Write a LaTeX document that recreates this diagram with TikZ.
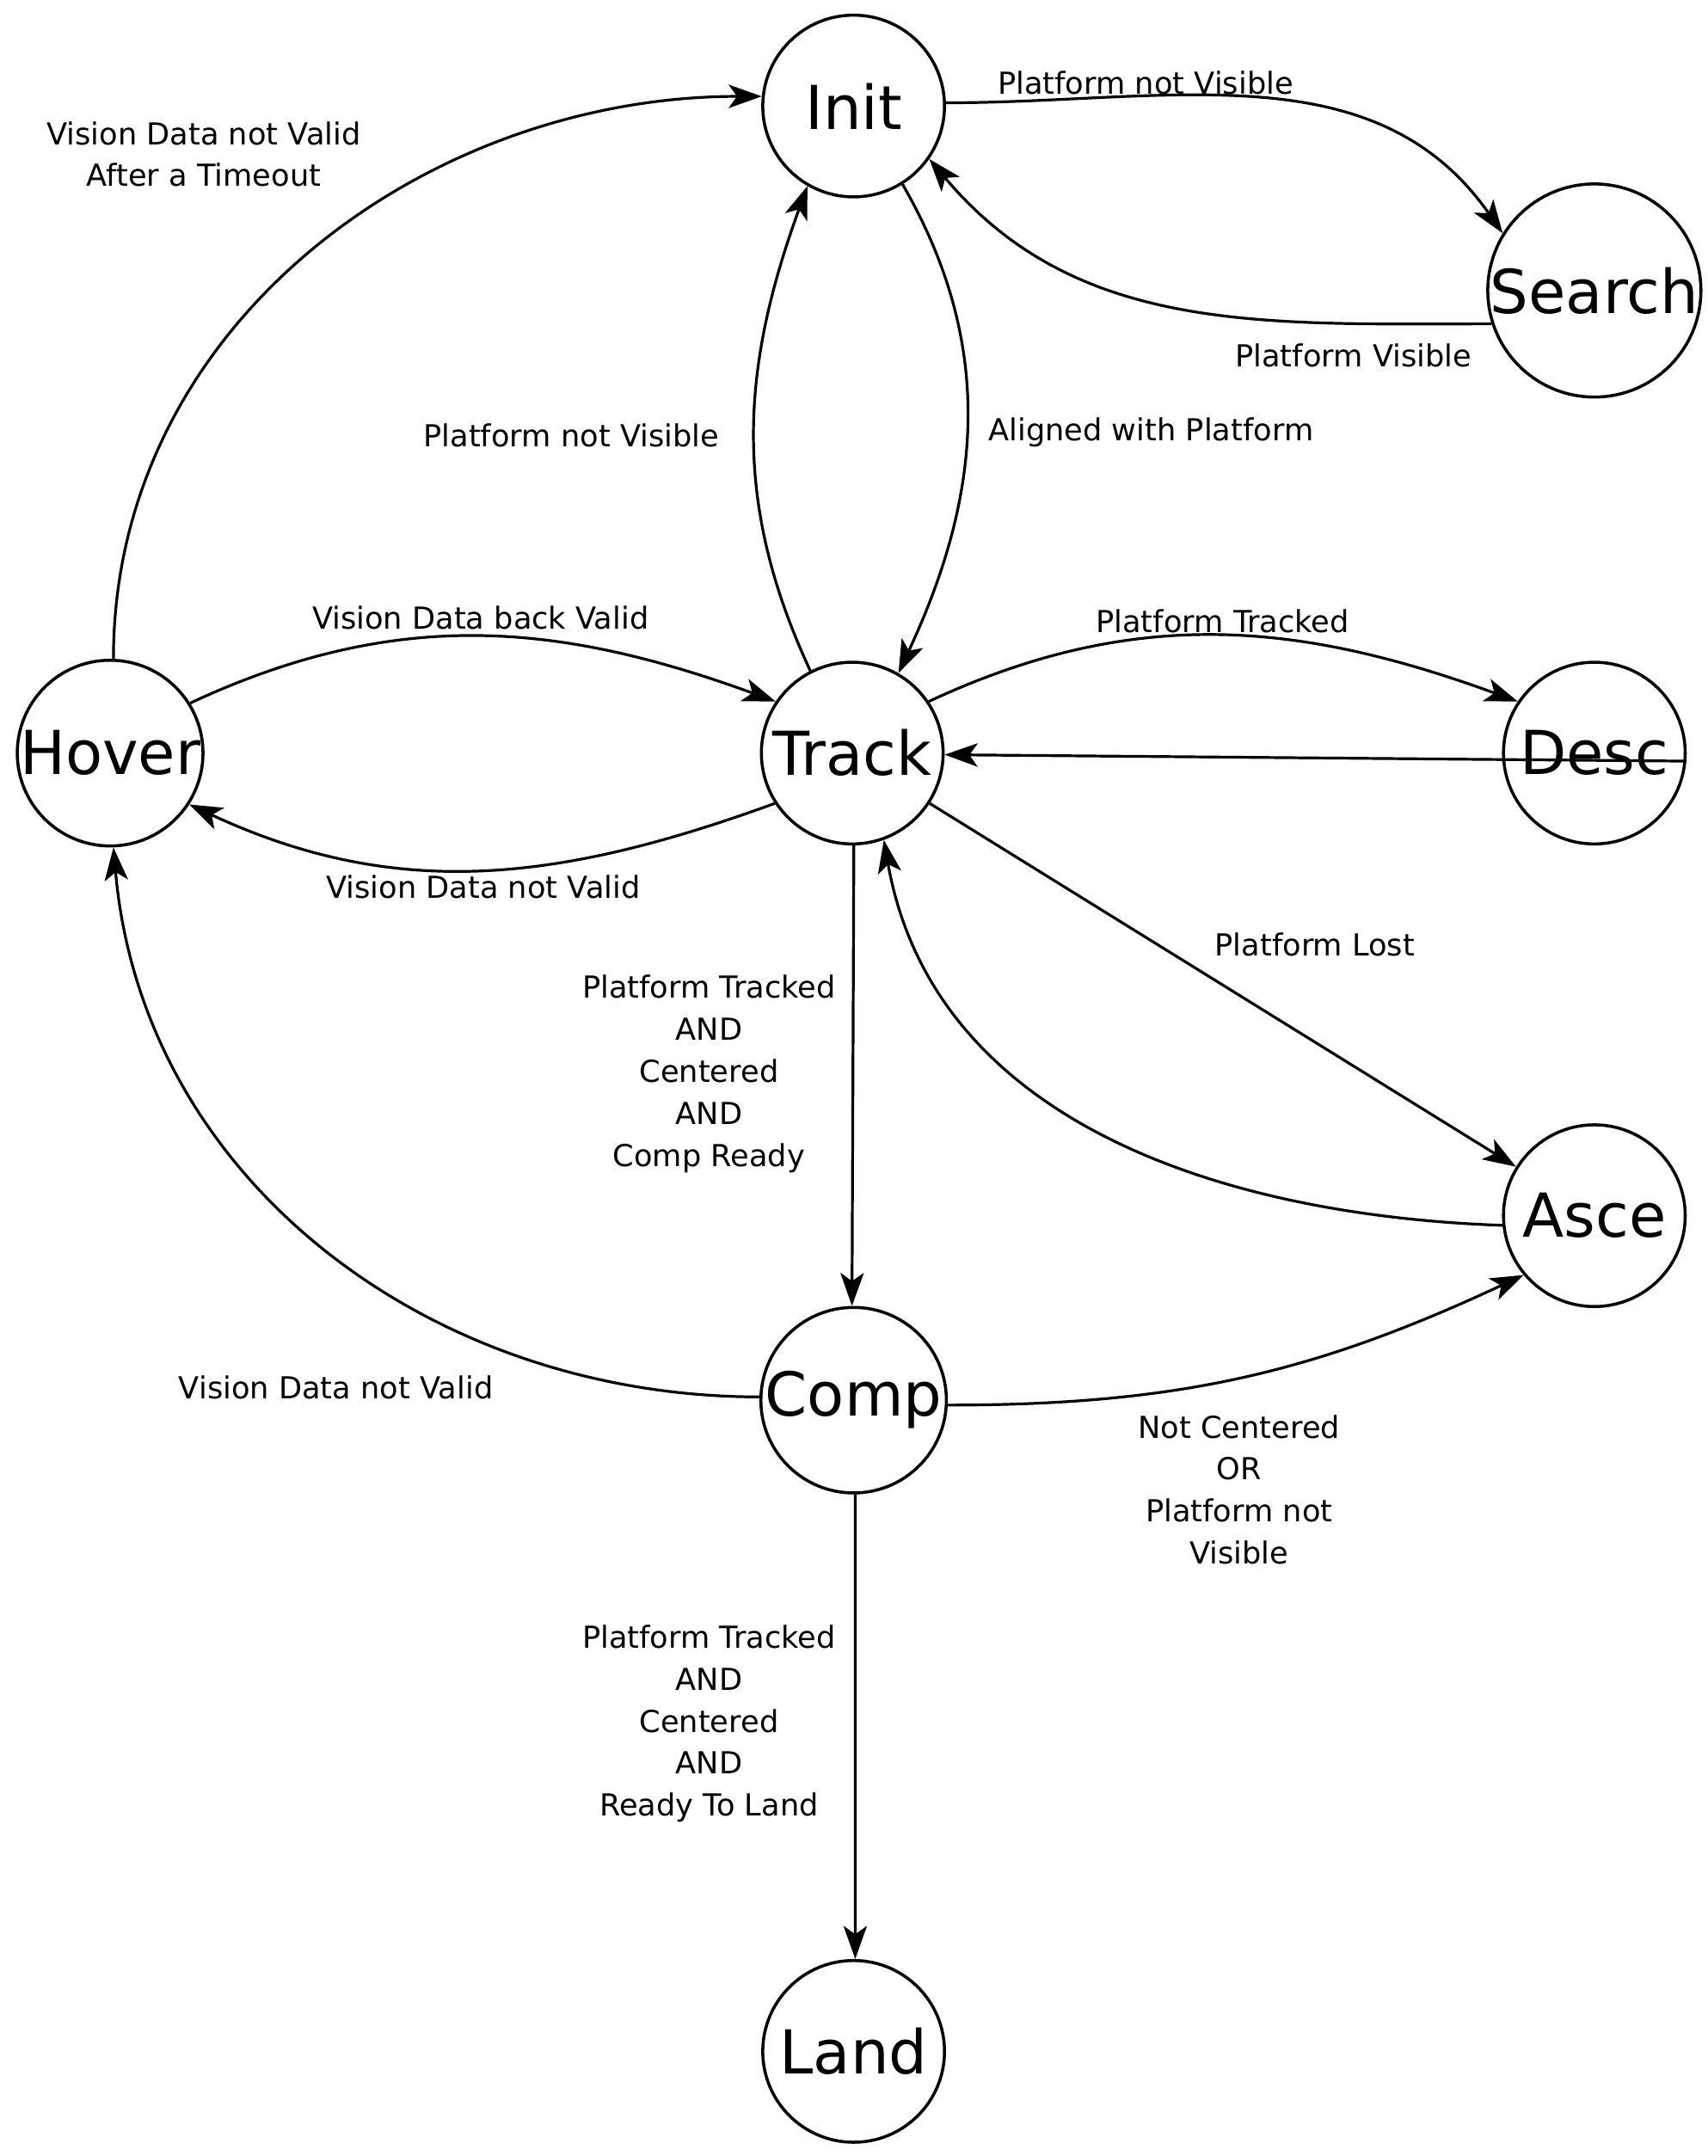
\documentclass[tikz,border=0pt]{standalone}
\usepackage{fontspec}
\setmainfont{DejaVu Sans}
\usetikzlibrary{arrows.meta}
\begin{document}
\begin{tikzpicture}[x=1pt,y=-1pt,
  st/.style={circle,draw,line width=2.2pt,minimum size=132pt,inner sep=0pt,font=\fontsize{44}{48}\selectfont},
  e/.style={line width=2pt,-{Stealth[length=24pt,width=17pt,inset=6pt]}},
  lb/.style={font=\fontsize{22}{30.5}\selectfont,align=center}]
\useasboundingbox (0,0) rectangle (1240,1566);
\node[st] (init) at (620,77) {Init};
\node[st] (search) at (1158,211) {Search};
\node[st] (hover) at (80,547) {Hover};
\node[st] (track) at (619,547) {Track};
\node[st] (desc) at (1158,547) {Desc};
\node[st] (asce) at (1158,883) {Asce};
\node[st] (comp) at (620,1017) {Comp};
\node[st] (land) at (620,1490) {Land};

\draw[e] (init.2) to[out=0,in=125] (search.148);
\node[lb] at (832,60) {Platform not Visible};
\draw[e] (search.198) to[out=180,in=-50] (init.-35);
\node[lb] at (983,258) {Platform Visible};
\draw[e] (init.-58) to[out=-60,in=65] (track.60);
\node[lb] at (836,314) {Aligned with Platform};
\draw[e] (track.117) to[out=115,in=-110] (init.-120);
\node[lb] at (415,316) {Platform not Visible};
\draw[e] (hover.88) to[out=90,in=180] (init.174);
\node[lb] at (148,112) {Vision Data not Valid\\After a Timeout};
\draw[e] (hover.32) to[out=25,in=160] (track.146);
\node[lb] at (349,449) {Vision Data back Valid};
\draw[e] (track.-147) to[out=-160,in=-25] (hover.-33);
\node[lb] at (351,644) {Vision Data not Valid};
\draw[e] (track.34) to[out=25,in=160] (desc.146);
\node[lb] at (888,451) {Platform Tracked};
\draw[e] (desc.-5) -- (track.-1);
\draw[e] (track.-33) -- (asce.148);
\node[lb] at (955,686) {Platform Lost};
\draw[e] (asce.-174) to[out=178,in=-80] (track.-70);
\draw[e] (track.-89) -- (comp.91);
\node[lb] at (515,780) {Platform Tracked\\AND\\Centered\\AND\\Comp Ready};
\draw[e] (comp.178) to[out=180,in=-85] (hover.-88);
\node[lb] at (244,1008) {Vision Data not Valid};
\draw[e] (comp.-3) to[out=0,in=-155] (asce.-140);
\node[lb] at (900,1082) {Not Centered\\OR\\Platform not\\Visible};
\draw[e] (comp.-89) -- (land.89);
\node[lb] at (515,1252) {Platform Tracked\\AND\\Centered\\AND\\Ready To Land};
\end{tikzpicture}
\end{document}
